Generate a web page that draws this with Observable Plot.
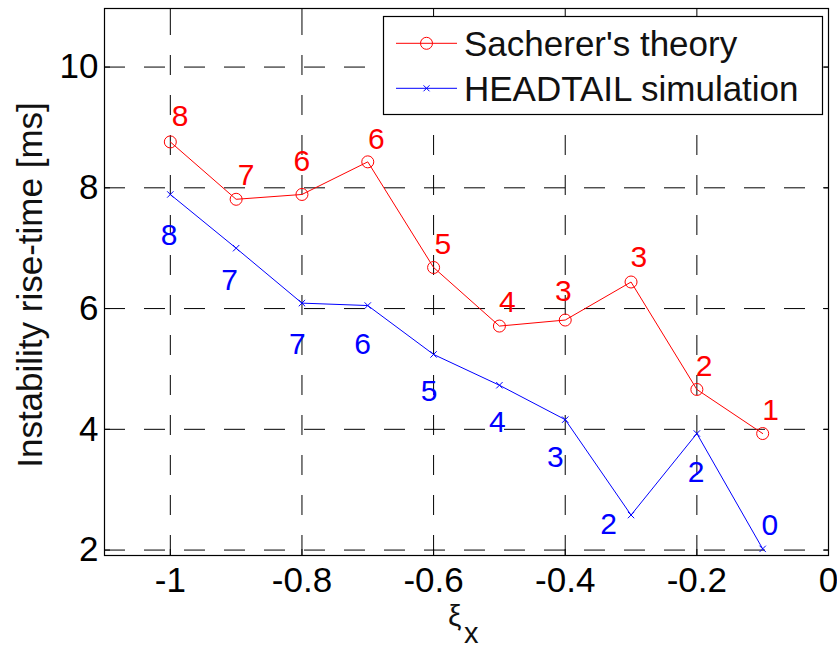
<!DOCTYPE html>
<html><head><meta charset="utf-8">
<script src="https://cdn.jsdelivr.net/npm/d3@7"></script>
<script src="https://cdn.jsdelivr.net/npm/@observablehq/plot@0.6"></script>
<style>body{margin:0;background:#fff} #chart{width:837px;height:648px}</style>
</head><body><div id="chart"></div>
<script>
// ---- data ----
const xi = [-1, -0.9, -0.8, -0.7, -0.6, -0.5, -0.4, -0.3, -0.2, -0.1];
const sacherer = [8.76, 7.81, 7.89, 8.43, 6.68, 5.71, 5.81, 6.44, 4.66, 3.93];
const headtail = [7.89, 7.00, 6.09, 6.05, 5.24, 4.73, 4.16, 2.58, 3.93, 2.02];
const sachererModes = [8, 7, 6, 6, 5, 4, 3, 3, 2, 1];
const headtailModes = [8, 7, 7, 6, 5, 4, 3, 2, 2, 0];
// anchors of the mode-number annotations, in data coordinates
const sachererLabelX = [-0.985, -0.885, -0.800, -0.687, -0.586, -0.488, -0.403, -0.288, -0.189, -0.088];
const sachererLabelY = [9.18, 8.21, 8.43, 8.81, 7.06, 6.11, 6.29, 6.85, 5.05, 4.32];
const headtailLabelX = [-1.002, -0.910, -0.807, -0.708, -0.607, -0.503, -0.415, -0.334, -0.201, -0.089];
const headtailLabelY = [7.21, 6.47, 5.41, 5.41, 4.62, 4.12, 3.54, 2.43, 3.28, 2.41];
const seriesNames = ["Sacherer's theory", "HEADTAIL simulation"];
const seriesColors = ["#ff0000", "#0000ff"];
const xTicks = [-1, -0.8, -0.6, -0.4, -0.2, 0];
const yTicks = [2, 4, 6, 8, 10];
const xDomain = [-1.1, 0];
const yDomain = [1.91, 10.97];
const xLabelMain = "ξ", xLabelSub = "x";
const yLabel = "Instability rise-time [ms]";

// ---- chart ----
const font = '"Liberation Sans", Arial, sans-serif';
const sData = xi.map((x, i) => ({x, y: sacherer[i], m: sachererModes[i], lx: sachererLabelX[i], ly: sachererLabelY[i]}));
const hData = xi.map((x, i) => ({x, y: headtail[i], m: headtailModes[i], lx: headtailLabelX[i], ly: headtailLabelY[i]}));

const plot = Plot.plot({
  width: 837, height: 648,
  marginLeft: 104, marginRight: 9, marginTop: 8, marginBottom: 93,
  style: {fontFamily: font, background: "white", color: "black"},
  x: {domain: xDomain},
  y: {domain: yDomain},
  marks: [
    Plot.ruleY(yTicks, {x1: xDomain[0], x2: xDomain[1], stroke: "black", strokeWidth: 1, strokeDasharray: "21,19"}),
    Plot.ruleX(xTicks, {y1: yDomain[0], y2: yDomain[1], stroke: "black", strokeWidth: 1, strokeDasharray: "20,20"}),
    Plot.axisX(xTicks, {anchor: "bottom", tickSize: -6, tickPadding: 18, tickFormat: d => String(d), fontSize: 35, label: null, stroke: "black", fill: "black"}),
    Plot.axisX(xTicks, {anchor: "top", tickSize: -6, tickFormat: () => "", label: null}),
    Plot.axisY(yTicks, {anchor: "left", tickSize: -6, tickPadding: 12, tickFormat: d => String(d), fontSize: 35, label: null}),
    Plot.axisY(yTicks, {anchor: "right", tickSize: -6, tickFormat: () => "", label: null}),
    Plot.frame({stroke: "black", strokeWidth: 1.2}),
    Plot.line(sData, {x: "x", y: "y", stroke: seriesColors[0], strokeWidth: 1}),
    Plot.dot(sData, {x: "x", y: "y", r: 6, stroke: seriesColors[0], fill: "none", strokeWidth: 1}),
    Plot.line(hData, {x: "x", y: "y", stroke: seriesColors[1], strokeWidth: 1}),
    Plot.dot(hData, {x: "x", y: "y", symbol: "times", r: 3, stroke: seriesColors[1], strokeWidth: 1}),
    Plot.text(sData, {x: "lx", y: "ly", text: "m", fill: seriesColors[0], fontSize: 30}),
    Plot.text(hData, {x: "lx", y: "ly", text: "m", fill: seriesColors[1], fontSize: 30})
  ]
});

const svg = d3.select(plot);
// y label
svg.append("text")
  .attr("transform", "translate(42,285) rotate(-90)")
  .attr("text-anchor", "middle").attr("font-size", 35).attr("fill", "#111")
  .attr("font-family", font).text(yLabel);
// x label with subscript
const xl = svg.append("text").attr("font-family", font).attr("fill", "#111").attr("text-anchor", "start");
xl.append("tspan").attr("x", 448).attr("y", 626).attr("font-size", 30).text(xLabelMain);
xl.append("tspan").attr("x", 464).attr("y", 643).attr("font-size", 29).text(xLabelSub);

// legend
const lg = svg.append("g").attr("font-family", font).attr("text-anchor", "start");
lg.append("rect").attr("x", 383.5).attr("y", 16.5).attr("width", 439).attr("height", 98)
  .attr("fill", "white").attr("stroke", "black").attr("stroke-width", 1.2);
const rowY = [43.3, 88.3];
seriesNames.forEach((name, i) => {
  lg.append("line").attr("x1", 396).attr("x2", 457).attr("y1", rowY[i]).attr("y2", rowY[i])
    .attr("stroke", seriesColors[i]).attr("stroke-width", 1);
  if (i === 0) {
    lg.append("circle").attr("cx", 426.5).attr("cy", rowY[i]).attr("r", 6)
      .attr("fill", "none").attr("stroke", seriesColors[i]);
  } else {
    lg.append("path").attr("d", `M423.5,${rowY[i]-3}L429.5,${rowY[i]+3}M423.5,${rowY[i]+3}L429.5,${rowY[i]-3}`)
      .attr("stroke", seriesColors[i]);
  }
  lg.append("text").attr("x", 464).attr("y", rowY[i] + 12.7).attr("font-size", 35)
    .attr("text-anchor", "start").attr("fill", "#111").text(name);
});

document.getElementById("chart").appendChild(plot);
</script>
</body></html>
